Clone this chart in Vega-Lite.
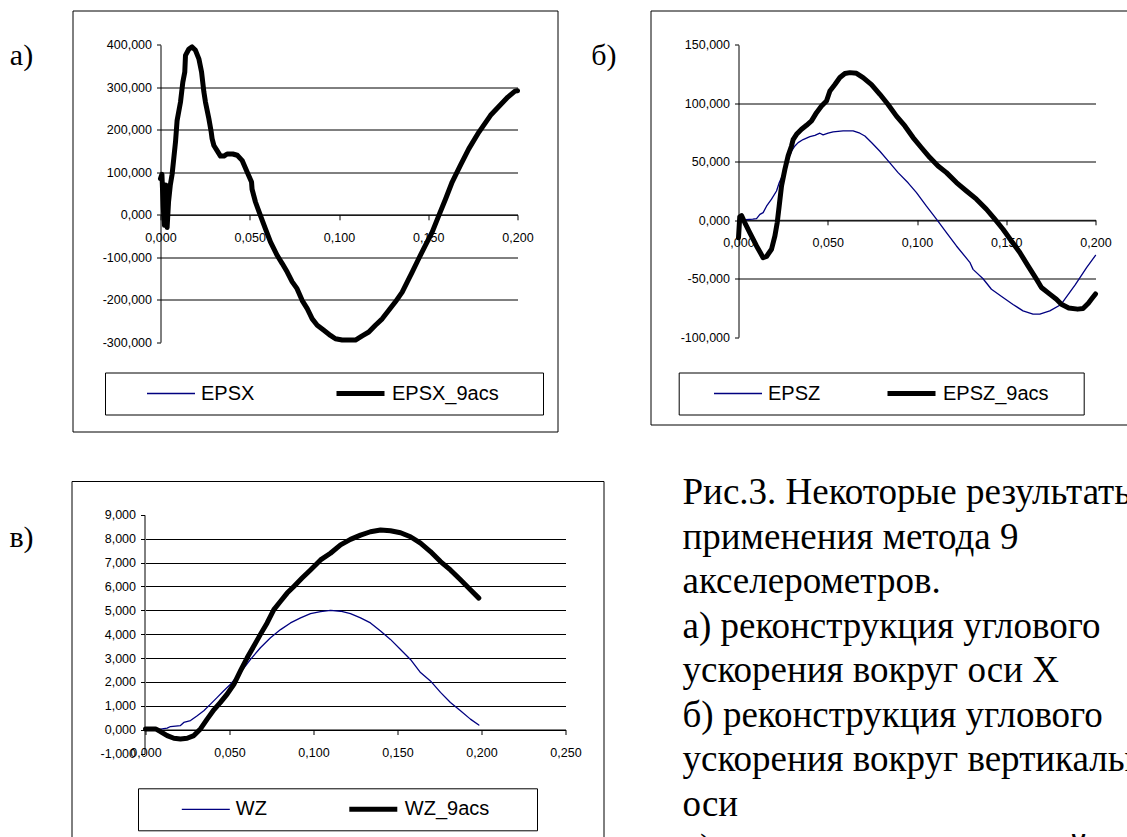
{
  "$schema": "https://vega.github.io/schema/vega-lite/v6.json",
  "padding": {"left": 0, "top": 9.5, "right": 0, "bottom": 0},
  "background": "white",
  "config": {
    "locale": {"number": {"decimal": ",", "thousands": " ", "grouping": [3], "currency": ["", ""], "minus": "-"}},
    "font": "Liberation Sans",
    "axis": {"domainColor": "black", "domainWidth": 1, "tickColor": "black", "tickWidth": 1, "labelColor": "black", "labelFont": "Liberation Sans", "labelFontSize": 12.5, "labelOverlap": false, "labelFlush": false, "labelBound": false, "gridColor": "black", "gridWidth": 1},
    "legend": {"orient": "none", "direction": "horizontal", "strokeColor": "black", "fillColor": "white", "padding": 10, "labelFont": "Liberation Sans", "labelFontSize": 20, "labelColor": "black", "symbolType": "stroke", "symbolSize": 2304, "clipHeight": 22, "labelOffset": 5, "titleOrient": "right", "titleFontSize": 1, "labelLimit": 400}
  },
  "datasets": {
    "a": [
      {"t": 0.0000, "v": 85, "s": "EPSX_9acs"}, {"t": 0.0008, "v": 95, "s": "EPSX_9acs"}, {"t": 0.0015, "v": 20, "s": "EPSX_9acs"}, {"t": 0.0022, "v": -25, "s": "EPSX_9acs"}, {"t": 0.0030, "v": 70, "s": "EPSX_9acs"}, {"t": 0.0037, "v": -30, "s": "EPSX_9acs"}, {"t": 0.0045, "v": 30, "s": "EPSX_9acs"}, {"t": 0.0055, "v": 70, "s": "EPSX_9acs"}, {"t": 0.0065, "v": 95, "s": "EPSX_9acs"}, {"t": 0.0084, "v": 171, "s": "EPSX_9acs"}, {"t": 0.0093, "v": 222, "s": "EPSX_9acs"}, {"t": 0.0112, "v": 265, "s": "EPSX_9acs"}, {"t": 0.0125, "v": 312, "s": "EPSX_9acs"}, {"t": 0.0136, "v": 336, "s": "EPSX_9acs"}, {"t": 0.0140, "v": 375, "s": "EPSX_9acs"}, {"t": 0.0159, "v": 390, "s": "EPSX_9acs"}, {"t": 0.0177, "v": 395, "s": "EPSX_9acs"}, {"t": 0.0196, "v": 387, "s": "EPSX_9acs"}, {"t": 0.0215, "v": 367, "s": "EPSX_9acs"}, {"t": 0.0230, "v": 336, "s": "EPSX_9acs"}, {"t": 0.0243, "v": 289, "s": "EPSX_9acs"}, {"t": 0.0252, "v": 265, "s": "EPSX_9acs"}, {"t": 0.0271, "v": 226, "s": "EPSX_9acs"}, {"t": 0.0284, "v": 195, "s": "EPSX_9acs"}, {"t": 0.0289, "v": 179, "s": "EPSX_9acs"}, {"t": 0.0299, "v": 163, "s": "EPSX_9acs"}, {"t": 0.0317, "v": 151, "s": "EPSX_9acs"}, {"t": 0.0336, "v": 138, "s": "EPSX_9acs"}, {"t": 0.0355, "v": 138, "s": "EPSX_9acs"}, {"t": 0.0373, "v": 143, "s": "EPSX_9acs"}, {"t": 0.0405, "v": 143, "s": "EPSX_9acs"}, {"t": 0.0430, "v": 140, "s": "EPSX_9acs"}, {"t": 0.0457, "v": 128, "s": "EPSX_9acs"}, {"t": 0.0486, "v": 100, "s": "EPSX_9acs"}, {"t": 0.0510, "v": 77, "s": "EPSX_9acs"}, {"t": 0.0513, "v": 60, "s": "EPSX_9acs"}, {"t": 0.0532, "v": 30, "s": "EPSX_9acs"}, {"t": 0.0560, "v": -2, "s": "EPSX_9acs"}, {"t": 0.0588, "v": -33, "s": "EPSX_9acs"}, {"t": 0.0616, "v": -64, "s": "EPSX_9acs"}, {"t": 0.0654, "v": -96, "s": "EPSX_9acs"}, {"t": 0.0682, "v": -115, "s": "EPSX_9acs"}, {"t": 0.0710, "v": -135, "s": "EPSX_9acs"}, {"t": 0.0738, "v": -158, "s": "EPSX_9acs"}, {"t": 0.0765, "v": -174, "s": "EPSX_9acs"}, {"t": 0.0794, "v": -202, "s": "EPSX_9acs"}, {"t": 0.0822, "v": -221, "s": "EPSX_9acs"}, {"t": 0.0850, "v": -245, "s": "EPSX_9acs"}, {"t": 0.0878, "v": -260, "s": "EPSX_9acs"}, {"t": 0.0915, "v": -272, "s": "EPSX_9acs"}, {"t": 0.0952, "v": -284, "s": "EPSX_9acs"}, {"t": 0.0980, "v": -292, "s": "EPSX_9acs"}, {"t": 0.1018, "v": -295, "s": "EPSX_9acs"}, {"t": 0.1055, "v": -295, "s": "EPSX_9acs"}, {"t": 0.1092, "v": -295, "s": "EPSX_9acs"}, {"t": 0.1130, "v": -285, "s": "EPSX_9acs"}, {"t": 0.1167, "v": -276, "s": "EPSX_9acs"}, {"t": 0.1204, "v": -260, "s": "EPSX_9acs"}, {"t": 0.1242, "v": -245, "s": "EPSX_9acs"}, {"t": 0.1279, "v": -225, "s": "EPSX_9acs"}, {"t": 0.1316, "v": -205, "s": "EPSX_9acs"}, {"t": 0.1354, "v": -182, "s": "EPSX_9acs"}, {"t": 0.1391, "v": -151, "s": "EPSX_9acs"}, {"t": 0.1410, "v": -135, "s": "EPSX_9acs"}, {"t": 0.1447, "v": -103, "s": "EPSX_9acs"}, {"t": 0.1484, "v": -72, "s": "EPSX_9acs"}, {"t": 0.1522, "v": -41, "s": "EPSX_9acs"}, {"t": 0.1559, "v": -2, "s": "EPSX_9acs"}, {"t": 0.1597, "v": 37, "s": "EPSX_9acs"}, {"t": 0.1634, "v": 77, "s": "EPSX_9acs"}, {"t": 0.1680, "v": 116, "s": "EPSX_9acs"}, {"t": 0.1727, "v": 155, "s": "EPSX_9acs"}, {"t": 0.1783, "v": 194, "s": "EPSX_9acs"}, {"t": 0.1849, "v": 234, "s": "EPSX_9acs"}, {"t": 0.1946, "v": 277, "s": "EPSX_9acs"}, {"t": 0.1986, "v": 291, "s": "EPSX_9acs"}, {"t": 0.2000, "v": 292, "s": "EPSX_9acs"}
    ],
    "b": [
      {"t": 0.0000, "v": 0, "s": "EPSZ"}, {"t": 0.0080, "v": 1, "s": "EPSZ"}, {"t": 0.0101, "v": 1.4, "s": "EPSZ"}, {"t": 0.0120, "v": 5, "s": "EPSZ"}, {"t": 0.0138, "v": 6.5, "s": "EPSZ"}, {"t": 0.0157, "v": 12, "s": "EPSZ"}, {"t": 0.0185, "v": 18, "s": "EPSZ"}, {"t": 0.0213, "v": 25, "s": "EPSZ"}, {"t": 0.0228, "v": 32, "s": "EPSZ"}, {"t": 0.0241, "v": 36.5, "s": "EPSZ"}, {"t": 0.0260, "v": 43.6, "s": "EPSZ"}, {"t": 0.0278, "v": 52, "s": "EPSZ"}, {"t": 0.0297, "v": 59, "s": "EPSZ"}, {"t": 0.0316, "v": 63.5, "s": "EPSZ"}, {"t": 0.0334, "v": 66.4, "s": "EPSZ"}, {"t": 0.0362, "v": 69, "s": "EPSZ"}, {"t": 0.0400, "v": 71.5, "s": "EPSZ"}, {"t": 0.0428, "v": 72.6, "s": "EPSZ"}, {"t": 0.0456, "v": 74.4, "s": "EPSZ"}, {"t": 0.0474, "v": 73, "s": "EPSZ"}, {"t": 0.0502, "v": 74.4, "s": "EPSZ"}, {"t": 0.0530, "v": 75.5, "s": "EPSZ"}, {"t": 0.0586, "v": 76.4, "s": "EPSZ"}, {"t": 0.0642, "v": 76.4, "s": "EPSZ"}, {"t": 0.0680, "v": 74.4, "s": "EPSZ"}, {"t": 0.0708, "v": 72, "s": "EPSZ"}, {"t": 0.0745, "v": 66.4, "s": "EPSZ"}, {"t": 0.0792, "v": 59, "s": "EPSZ"}, {"t": 0.0848, "v": 49, "s": "EPSZ"}, {"t": 0.0894, "v": 40.7, "s": "EPSZ"}, {"t": 0.0950, "v": 32, "s": "EPSZ"}, {"t": 0.0997, "v": 23.6, "s": "EPSZ"}, {"t": 0.1053, "v": 12, "s": "EPSZ"}, {"t": 0.1109, "v": 1, "s": "EPSZ"}, {"t": 0.1165, "v": -10.5, "s": "EPSZ"}, {"t": 0.1221, "v": -22, "s": "EPSZ"}, {"t": 0.1296, "v": -36, "s": "EPSZ"}, {"t": 0.1314, "v": -42, "s": "EPSZ"}, {"t": 0.1370, "v": -50, "s": "EPSZ"}, {"t": 0.1417, "v": -59, "s": "EPSZ"}, {"t": 0.1482, "v": -66, "s": "EPSZ"}, {"t": 0.1538, "v": -72, "s": "EPSZ"}, {"t": 0.1594, "v": -77.5, "s": "EPSZ"}, {"t": 0.1650, "v": -80.3, "s": "EPSZ"}, {"t": 0.1688, "v": -80.3, "s": "EPSZ"}, {"t": 0.1744, "v": -77.5, "s": "EPSZ"}, {"t": 0.1807, "v": -72, "s": "EPSZ"}, {"t": 0.1887, "v": -55, "s": "EPSZ"}, {"t": 0.1950, "v": -40.5, "s": "EPSZ"}, {"t": 0.2000, "v": -30, "s": "EPSZ"},
      {"t": 0.0000, "v": -15, "s": "EPSZ_9acs"}, {"t": 0.0007, "v": 3, "s": "EPSZ_9acs"}, {"t": 0.0017, "v": 4, "s": "EPSZ_9acs"}, {"t": 0.0035, "v": -2, "s": "EPSZ_9acs"}, {"t": 0.0063, "v": -10.5, "s": "EPSZ_9acs"}, {"t": 0.0101, "v": -22, "s": "EPSZ_9acs"}, {"t": 0.0138, "v": -32, "s": "EPSZ_9acs"}, {"t": 0.0157, "v": -31, "s": "EPSZ_9acs"}, {"t": 0.0185, "v": -24.8, "s": "EPSZ_9acs"}, {"t": 0.0204, "v": -13.4, "s": "EPSZ_9acs"}, {"t": 0.0217, "v": -2, "s": "EPSZ_9acs"}, {"t": 0.0228, "v": 12.3, "s": "EPSZ_9acs"}, {"t": 0.0241, "v": 29.3, "s": "EPSZ_9acs"}, {"t": 0.0260, "v": 43.6, "s": "EPSZ_9acs"}, {"t": 0.0278, "v": 55, "s": "EPSZ_9acs"}, {"t": 0.0297, "v": 63.5, "s": "EPSZ_9acs"}, {"t": 0.0306, "v": 69, "s": "EPSZ_9acs"}, {"t": 0.0325, "v": 73.5, "s": "EPSZ_9acs"}, {"t": 0.0353, "v": 77.8, "s": "EPSZ_9acs"}, {"t": 0.0381, "v": 81.2, "s": "EPSZ_9acs"}, {"t": 0.0409, "v": 85, "s": "EPSZ_9acs"}, {"t": 0.0437, "v": 92, "s": "EPSZ_9acs"}, {"t": 0.0465, "v": 97.7, "s": "EPSZ_9acs"}, {"t": 0.0493, "v": 102, "s": "EPSZ_9acs"}, {"t": 0.0512, "v": 110.5, "s": "EPSZ_9acs"}, {"t": 0.0540, "v": 116, "s": "EPSZ_9acs"}, {"t": 0.0568, "v": 122, "s": "EPSZ_9acs"}, {"t": 0.0596, "v": 125.4, "s": "EPSZ_9acs"}, {"t": 0.0624, "v": 126.2, "s": "EPSZ_9acs"}, {"t": 0.0661, "v": 125.6, "s": "EPSZ_9acs"}, {"t": 0.0698, "v": 122, "s": "EPSZ_9acs"}, {"t": 0.0745, "v": 116, "s": "EPSZ_9acs"}, {"t": 0.0792, "v": 107.7, "s": "EPSZ_9acs"}, {"t": 0.0838, "v": 99, "s": "EPSZ_9acs"}, {"t": 0.0885, "v": 89, "s": "EPSZ_9acs"}, {"t": 0.0932, "v": 80.6, "s": "EPSZ_9acs"}, {"t": 0.0978, "v": 70.7, "s": "EPSZ_9acs"}, {"t": 0.1025, "v": 62, "s": "EPSZ_9acs"}, {"t": 0.1072, "v": 53.6, "s": "EPSZ_9acs"}, {"t": 0.1118, "v": 46.4, "s": "EPSZ_9acs"}, {"t": 0.1165, "v": 40.7, "s": "EPSZ_9acs"}, {"t": 0.1221, "v": 32.2, "s": "EPSZ_9acs"}, {"t": 0.1277, "v": 25, "s": "EPSZ_9acs"}, {"t": 0.1333, "v": 18, "s": "EPSZ_9acs"}, {"t": 0.1389, "v": 9.4, "s": "EPSZ_9acs"}, {"t": 0.1436, "v": 0.9, "s": "EPSZ_9acs"}, {"t": 0.1482, "v": -7.7, "s": "EPSZ_9acs"}, {"t": 0.1529, "v": -17.7, "s": "EPSZ_9acs"}, {"t": 0.1576, "v": -27.6, "s": "EPSZ_9acs"}, {"t": 0.1622, "v": -39, "s": "EPSZ_9acs"}, {"t": 0.1669, "v": -50.4, "s": "EPSZ_9acs"}, {"t": 0.1697, "v": -57.5, "s": "EPSZ_9acs"}, {"t": 0.1744, "v": -63.2, "s": "EPSZ_9acs"}, {"t": 0.1781, "v": -67.5, "s": "EPSZ_9acs"}, {"t": 0.1809, "v": -71.8, "s": "EPSZ_9acs"}, {"t": 0.1850, "v": -75, "s": "EPSZ_9acs"}, {"t": 0.1900, "v": -76, "s": "EPSZ_9acs"}, {"t": 0.1930, "v": -75.5, "s": "EPSZ_9acs"}, {"t": 0.1960, "v": -71, "s": "EPSZ_9acs"}, {"t": 0.1980, "v": -67, "s": "EPSZ_9acs"}, {"t": 0.2000, "v": -63, "s": "EPSZ_9acs"}
    ],
    "c": [
      {"t": 0.0000, "v": 0, "s": "WZ"}, {"t": 0.0069, "v": 0, "s": "WZ"}, {"t": 0.0129, "v": 0.06, "s": "WZ"}, {"t": 0.0149, "v": 0.13, "s": "WZ"}, {"t": 0.0208, "v": 0.17, "s": "WZ"}, {"t": 0.0228, "v": 0.3, "s": "WZ"}, {"t": 0.0268, "v": 0.38, "s": "WZ"}, {"t": 0.0308, "v": 0.58, "s": "WZ"}, {"t": 0.0347, "v": 0.79, "s": "WZ"}, {"t": 0.0387, "v": 1.07, "s": "WZ"}, {"t": 0.0427, "v": 1.35, "s": "WZ"}, {"t": 0.0466, "v": 1.63, "s": "WZ"}, {"t": 0.0506, "v": 1.9, "s": "WZ"}, {"t": 0.0565, "v": 2.39, "s": "WZ"}, {"t": 0.0625, "v": 2.94, "s": "WZ"}, {"t": 0.0684, "v": 3.43, "s": "WZ"}, {"t": 0.0744, "v": 3.85, "s": "WZ"}, {"t": 0.0804, "v": 4.19, "s": "WZ"}, {"t": 0.0863, "v": 4.47, "s": "WZ"}, {"t": 0.0923, "v": 4.68, "s": "WZ"}, {"t": 0.0982, "v": 4.86, "s": "WZ"}, {"t": 0.1042, "v": 4.94, "s": "WZ"}, {"t": 0.1101, "v": 5.0, "s": "WZ"}, {"t": 0.1161, "v": 4.96, "s": "WZ"}, {"t": 0.1220, "v": 4.86, "s": "WZ"}, {"t": 0.1280, "v": 4.68, "s": "WZ"}, {"t": 0.1339, "v": 4.47, "s": "WZ"}, {"t": 0.1399, "v": 4.13, "s": "WZ"}, {"t": 0.1458, "v": 3.78, "s": "WZ"}, {"t": 0.1518, "v": 3.36, "s": "WZ"}, {"t": 0.1577, "v": 2.94, "s": "WZ"}, {"t": 0.1637, "v": 2.39, "s": "WZ"}, {"t": 0.1696, "v": 2.04, "s": "WZ"}, {"t": 0.1756, "v": 1.56, "s": "WZ"}, {"t": 0.1815, "v": 1.14, "s": "WZ"}, {"t": 0.1875, "v": 0.79, "s": "WZ"}, {"t": 0.1934, "v": 0.44, "s": "WZ"}, {"t": 0.1984, "v": 0.19, "s": "WZ"},
      {"t": 0.0000, "v": 0.03, "s": "WZ_9acs"}, {"t": 0.0060, "v": 0.03, "s": "WZ_9acs"}, {"t": 0.0089, "v": -0.08, "s": "WZ_9acs"}, {"t": 0.0129, "v": -0.25, "s": "WZ_9acs"}, {"t": 0.0169, "v": -0.36, "s": "WZ_9acs"}, {"t": 0.0208, "v": -0.39, "s": "WZ_9acs"}, {"t": 0.0248, "v": -0.36, "s": "WZ_9acs"}, {"t": 0.0288, "v": -0.25, "s": "WZ_9acs"}, {"t": 0.0327, "v": 0.03, "s": "WZ_9acs"}, {"t": 0.0367, "v": 0.44, "s": "WZ_9acs"}, {"t": 0.0407, "v": 0.83, "s": "WZ_9acs"}, {"t": 0.0446, "v": 1.14, "s": "WZ_9acs"}, {"t": 0.0486, "v": 1.49, "s": "WZ_9acs"}, {"t": 0.0526, "v": 1.9, "s": "WZ_9acs"}, {"t": 0.0565, "v": 2.46, "s": "WZ_9acs"}, {"t": 0.0605, "v": 3.01, "s": "WZ_9acs"}, {"t": 0.0645, "v": 3.5, "s": "WZ_9acs"}, {"t": 0.0684, "v": 3.99, "s": "WZ_9acs"}, {"t": 0.0724, "v": 4.47, "s": "WZ_9acs"}, {"t": 0.0764, "v": 5.03, "s": "WZ_9acs"}, {"t": 0.0804, "v": 5.38, "s": "WZ_9acs"}, {"t": 0.0843, "v": 5.72, "s": "WZ_9acs"}, {"t": 0.0883, "v": 6.0, "s": "WZ_9acs"}, {"t": 0.0932, "v": 6.35, "s": "WZ_9acs"}, {"t": 0.0982, "v": 6.69, "s": "WZ_9acs"}, {"t": 0.1042, "v": 7.11, "s": "WZ_9acs"}, {"t": 0.1101, "v": 7.39, "s": "WZ_9acs"}, {"t": 0.1161, "v": 7.74, "s": "WZ_9acs"}, {"t": 0.1220, "v": 7.97, "s": "WZ_9acs"}, {"t": 0.1280, "v": 8.15, "s": "WZ_9acs"}, {"t": 0.1339, "v": 8.29, "s": "WZ_9acs"}, {"t": 0.1399, "v": 8.36, "s": "WZ_9acs"}, {"t": 0.1458, "v": 8.33, "s": "WZ_9acs"}, {"t": 0.1518, "v": 8.25, "s": "WZ_9acs"}, {"t": 0.1577, "v": 8.08, "s": "WZ_9acs"}, {"t": 0.1637, "v": 7.81, "s": "WZ_9acs"}, {"t": 0.1696, "v": 7.46, "s": "WZ_9acs"}, {"t": 0.1756, "v": 7.04, "s": "WZ_9acs"}, {"t": 0.1815, "v": 6.69, "s": "WZ_9acs"}, {"t": 0.1875, "v": 6.28, "s": "WZ_9acs"}, {"t": 0.1934, "v": 5.86, "s": "WZ_9acs"}, {"t": 0.1984, "v": 5.51, "s": "WZ_9acs"}
    ]
  },
  "spacing": 41.5,
  "resolve": {"scale": {"color": "independent", "strokeWidth": "independent"}, "legend": {"color": "independent", "strokeWidth": "independent"}},
  "vconcat": [
    {
      "spacing": 28.5,
      "resolve": {"scale": {"color": "independent", "strokeWidth": "independent"}, "legend": {"color": "independent", "strokeWidth": "independent"}},
      "hconcat": [
        {
          "width": 43, "height": 90,
          "view": {"stroke": null, "fill": "white"},
          "data": {"values": [{"label": "а)"}]},
          "mark": {"type": "text", "font": "Liberation Serif", "fontSize": 30, "align": "center", "baseline": "middle", "color": "black"},
          "encoding": {"text": {"field": "label"}}
        },
        {
          "width": 485, "height": 421,
          "view": {"stroke": "black", "strokeWidth": 1, "fill": "white"},
          "data": {"name": "a"},
          "mark": {"type": "line", "strokeCap": "round", "strokeJoin": "round"},
          "encoding": {
            "x": {"field": "t", "type": "quantitative", "scale": {"domain": [0, 0.2], "range": [88, 445], "nice": false, "zero": false},
                  "axis": {"title": null, "values": [0, 0.05, 0.1, 0.15, 0.2], "format": ".3f", "offset": -216.7, "tickSize": 5, "labelPadding": 12, "grid": false}},
            "y": {"field": "v", "type": "quantitative", "scale": {"domain": [-300, 400], "range": [331.7, 34.3], "nice": false, "zero": false},
                  "axis": {"title": null, "values": [-300, -200, -100, 0, 100, 200, 300, 400], "format": ".3f", "offset": -88, "tickSize": 4, "labelPadding": 5, "grid": true,
                           "gridOpacity": {"condition": {"test": "datum.value == 400 || datum.value == -300", "value": 0}, "value": 1}}},
            "color": {"field": "s", "type": "nominal", "scale": {"domain": ["EPSX", "EPSX_9acs"], "range": ["#000080", "black"]},
                      "legend": {"title": " ", "legendX": 32.5, "legendY": 362, "symbolOffset": 31, "columnPadding": 48, "titlePadding": 34}},
            "strokeWidth": {"field": "s", "type": "nominal", "scale": {"domain": ["EPSX", "EPSX_9acs"], "range": [1.3, 5]},
                      "legend": {"title": " ", "legendX": 32.5, "legendY": 362, "symbolOffset": 31, "columnPadding": 48, "titlePadding": 34}}
          }
        },
        {
          "width": 33.5, "height": 90,
          "view": {"stroke": null, "fill": "white"},
          "data": {"values": [{"label": "б)"}]},
          "mark": {"type": "text", "font": "Liberation Serif", "fontSize": 30, "align": "center", "baseline": "middle", "color": "black"},
          "encoding": {"text": {"field": "label"}}
        },
        {
          "width": 485, "height": 414,
          "view": {"stroke": "black", "strokeWidth": 1, "fill": "white"},
          "data": {"name": "b"},
          "encoding": {
            "x": {"field": "t", "type": "quantitative", "scale": {"domain": [0, 0.2], "range": [88, 445], "nice": false, "zero": false},
                  "axis": {"title": null, "values": [0, 0.05, 0.1, 0.15, 0.2], "format": ".3f", "offset": -204.7, "tickSize": 5, "labelPadding": 12, "grid": false}},
            "y": {"field": "v", "type": "quantitative", "scale": {"domain": [-100, 150], "range": [326.7, 34.3], "nice": false, "zero": false},
                  "axis": {"title": null, "values": [-100, -50, 0, 50, 100, 150], "format": ".3f", "offset": -88, "tickSize": 4, "labelPadding": 5, "grid": true,
                           "gridOpacity": {"condition": {"test": "datum.value == 150 || datum.value == -100", "value": 0}, "value": 1}}},
            "color": {"field": "s", "type": "nominal", "scale": {"domain": ["EPSZ", "EPSZ_9acs"], "range": ["#000080", "black"]},
                      "legend": {"title": " ", "legendX": 28.2, "legendY": 362, "symbolOffset": 24.3, "columnPadding": 40, "titlePadding": 25}},
            "strokeWidth": {"field": "s", "type": "nominal", "scale": {"domain": ["EPSZ", "EPSZ_9acs"], "range": [1.3, 5]},
                      "legend": {"title": " ", "legendX": 28.2, "legendY": 362, "symbolOffset": 24.3, "columnPadding": 40, "titlePadding": 25}}
          },
          "layer": [
            {"transform": [{"filter": "datum.s == 'EPSZ'"}], "mark": {"type": "line", "strokeCap": "round", "strokeJoin": "round"}},
            {"transform": [{"filter": "datum.s == 'EPSZ_9acs'"}], "mark": {"type": "line", "strokeCap": "round", "strokeJoin": "round"}}
          ]
        }
      ]
    },
    {
      "spacing": 27.5,
      "resolve": {"scale": {"color": "independent", "strokeWidth": "independent"}, "legend": {"color": "independent", "strokeWidth": "independent"}},
      "hconcat": [
        {
          "width": 43, "height": 113.8,
          "view": {"stroke": null, "fill": "white"},
          "data": {"values": [{"label": "в)"}]},
          "mark": {"type": "text", "font": "Liberation Serif", "fontSize": 30, "align": "center", "baseline": "middle", "color": "black"},
          "encoding": {"text": {"field": "label"}}
        },
        {
          "width": 532, "height": 370,
          "view": {"stroke": "black", "strokeWidth": 1, "fill": "white"},
          "data": {"name": "c"},
          "encoding": {
            "x": {"field": "t", "type": "quantitative", "scale": {"domain": [0, 0.25], "range": [74, 494], "nice": false, "zero": false},
                  "axis": {"title": null, "values": [0, 0.05, 0.1, 0.15, 0.2, 0.25], "format": ".3f", "offset": -121.5, "tickSize": 5, "labelPadding": 12, "grid": false}},
            "y": {"field": "v", "type": "quantitative", "scale": {"domain": [-1, 9], "range": [272.5, 33.8], "nice": false, "zero": false},
                  "axis": {"title": null, "values": [-1, 0, 1, 2, 3, 4, 5, 6, 7, 8, 9], "format": ".3f", "offset": -73, "tickSize": 4, "labelPadding": 5, "grid": true,
                           "gridOpacity": {"condition": {"test": "datum.value == 9 || datum.value == -1", "value": 0}, "value": 1}}},
            "color": {"field": "s", "type": "nominal", "scale": {"domain": ["WZ", "WZ_9acs"], "range": ["#000080", "black"]},
                      "legend": {"title": " ", "legendX": 66.5, "legendY": 307.3, "symbolOffset": 32.8, "columnPadding": 47, "titlePadding": 38}},
            "strokeWidth": {"field": "s", "type": "nominal", "scale": {"domain": ["WZ", "WZ_9acs"], "range": [1.3, 5]},
                      "legend": {"title": " ", "legendX": 66.5, "legendY": 307.3, "symbolOffset": 32.8, "columnPadding": 47, "titlePadding": 38}}
          },
          "layer": [
            {"transform": [{"filter": "datum.s == 'WZ'"}], "mark": {"type": "line", "strokeCap": "round", "strokeJoin": "round"}},
            {"transform": [{"filter": "datum.s == 'WZ_9acs'"}], "mark": {"type": "line", "strokeCap": "round", "strokeJoin": "round"}}
          ]
        },
        {
          "width": 101, "height": 380,
          "view": {"stroke": null, "fill": "white"},
          "data": {"values": [
            {"line": 0, "text": "Рис.3. Некоторые результаты"},
            {"line": 1, "text": "применения метода 9"},
            {"line": 2, "text": "акселерометров."},
            {"line": 3, "text": "а) реконструкция углового"},
            {"line": 4, "text": "ускорения вокруг оси X"},
            {"line": 5, "text": "б) реконструкция углового"},
            {"line": 6, "text": "ускорения вокруг вертикальной"},
            {"line": 7, "text": "оси"},
            {"line": 8, "text": "в) реконструкция угловой скорости"}
          ]},
          "mark": {"type": "text", "align": "left", "baseline": "alphabetic", "font": "Liberation Serif", "fontSize": 37, "color": "black"},
          "encoding": {
            "y": {"field": "line", "type": "quantitative", "scale": {"domain": [0, 8], "range": [23, 379]}, "axis": null},
            "text": {"field": "text"}
          }
        }
      ]
    }
  ]
}
